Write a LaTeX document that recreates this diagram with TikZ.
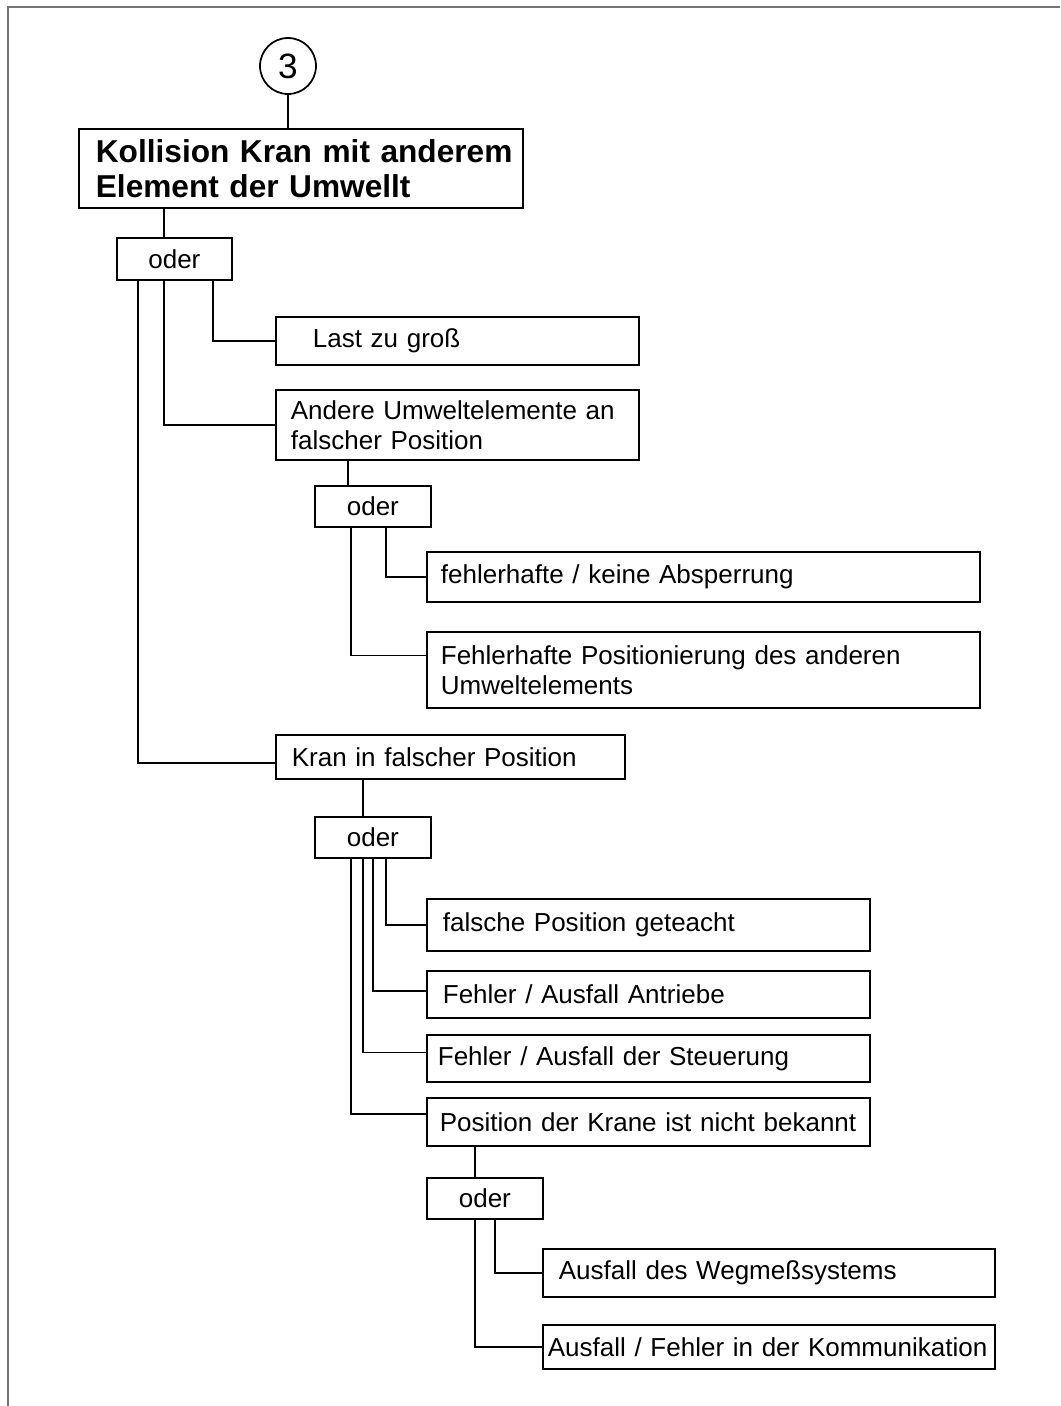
\documentclass[tikz,border=0pt]{standalone}
\usepackage{fontspec}
\setmainfont{Liberation Sans}
\usetikzlibrary{positioning}

\begin{document}
\begin{tikzpicture}[x=.2mm,y=-.2mm,line width=1pt,font=\fontsize{14.8}{17}\selectfont,
  box/.style 2 args={draw,anchor=north west,align=left,inner xsep=0pt,inner ysep=0pt,text width=#1,execute at begin node={\leftskip=#2}},
  oderbox/.style={draw,anchor=north west,minimum width=23.2mm,minimum height=8.2mm,inner sep=0pt}]
\useasboundingbox (0,0) rectangle (1060,1406);
\draw[black!55] (8,1406) -- (8,7) -- (1060,7);
\node[draw,circle,minimum size=11.2mm,inner sep=0pt,font=\fontsize{20}{24}\selectfont] (top3) at (288,66) {3};
\node[box={88.8mm}{3.4mm},font=\fontsize{18}{20}\selectfont\bfseries,minimum height=15.8mm] (kollision) at (78,128) {Kollision Kran mit anderem\\Element der Umwellt};
\node[oderbox,minimum width=23mm,minimum height=8.4mm] (oder1) at (116,237) {oder};
\node[box={72.6mm}{7.4mm},minimum height=9.6mm] (last) at (275,316) {Last zu groß};
\node[box={72.6mm}{3mm},minimum height=14mm] (andere) at (275,389) {Andere Umweltelemente an\\falscher Position};
\node[oderbox] (oder2) at (314,485) {oder};
\node[box={110.6mm}{2.8mm},minimum height=10mm] (absperrung) at (426,551) {fehlerhafte / keine Absperrung};
\node[box={110.6mm}{2.8mm},minimum height=15.2mm] (positionierung) at (426,631) {Fehlerhafte Positionierung des anderen\\Umweltelements};
\node[box={69.8mm}{3.2mm},minimum height=8.8mm] (kran) at (275,734) {Kran in falscher Position};
\node[oderbox] (oder3) at (314,816) {oder};
\node[box={88.6mm}{3.2mm},minimum height=10.4mm] (geteacht) at (426,898) {falsche Position geteacht};
\node[box={88.6mm}{3.2mm},minimum height=9.4mm] (antriebe) at (426,970) {Fehler / Ausfall Antriebe};
\node[box={88.6mm}{2.2mm},minimum height=9.4mm] (steuerung) at (426,1034) {Fehler / Ausfall der Steuerung};
\node[box={88.6mm}{2.6mm},minimum height=9.6mm] (krane) at (426,1097) {Position der Krane ist nicht bekannt};
\node[oderbox] (oder4) at (426,1177) {oder};
\node[box={90.4mm}{3.2mm},minimum height=9.6mm] (wegmess) at (542,1248) {Ausfall des Wegmeßsystems};
\node[box={90.4mm}{1mm},minimum height=8.8mm] (kommunikation) at (542,1324) {Ausfall / Fehler in der Kommunikation};
\draw (top3) -- (top3 |- kollision.north);
\draw ([xshift=-2.1mm]oder1.north) -- ([xshift=-2.1mm]oder1.north |- kollision.south);
\draw ([xshift=7.7mm]oder1.south) |- (last.west);
\draw ([xshift=-2.1mm]oder1.south) |- (andere.west);
\draw ([xshift=-7.3mm]oder1.south) |- ([yshift=-1.2mm]kran.west);
\draw ([xshift=-5mm]oder2.north) -- ([xshift=-5mm]oder2.north |- andere.south);
\draw ([xshift=2.6mm]oder2.south) |- (absperrung.west);
\draw ([xshift=-4.4mm]oder2.south) |- ([yshift=2.9mm]positionierung.west);
\draw ([xshift=-2mm]oder3.north) -- ([xshift=-2mm]oder3.north |- kran.south);
\draw ([xshift=2.6mm]oder3.south) |- (geteacht.west);
\draw (oder3.south) |- ([yshift=.7mm]antriebe.west);
\draw ([xshift=-2mm]oder3.south) |- ([yshift=1.2mm]steuerung.west);
\draw ([xshift=-4.4mm]oder3.south) |- ([yshift=1.6mm]krane.west);
\draw ([xshift=-2mm]oder4.north) -- ([xshift=-2mm]oder4.north |- krane.south);
\draw ([xshift=2mm]oder4.south) |- (wegmess.west);
\draw ([xshift=-2mm]oder4.south) |- (kommunikation.west);
\end{tikzpicture}
\end{document}
